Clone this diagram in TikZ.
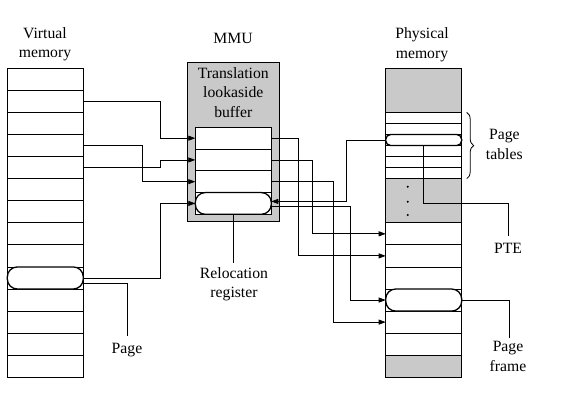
\documentclass[tikz,border=0pt]{standalone}
\usepackage{fontspec}
\setmainfont{Liberation Serif}
\usetikzlibrary{arrows.meta,decorations.pathreplacing,calc}
\begin{document}
\begin{tikzpicture}[x=1pt,y=-1pt,
  line width=0.8pt,
  cell/.style={draw, fill=white, inner sep=0pt, outer sep=0pt, minimum width=76pt},
  greycell/.style={cell, fill=black!21},
  pill/.style={draw, fill=white, line width=1.3pt, inner sep=0pt, outer sep=0pt, minimum width=76pt},
  arr/.style={-{Triangle[length=7pt,width=5pt]}},
  lbl/.style={align=center, font=\fontsize{15.7}{19.6}\selectfont, inner sep=0pt}
]
\useasboundingbox (0,0) rectangle (585,404);

% Virtual memory
\foreach \i in {1,...,14}
  \node[cell, minimum height=22.07pt] (vm\i) at (45.3,{57.265+22.07*\i}) {};
\node[pill, minimum height=22.07pt, rounded corners=10pt] (page) at (vm10) {};

% MMU
\node[draw, fill=black!21, inner sep=0pt, outer sep=0pt, minimum width=92pt, minimum height=159pt] (mmu) at (233.3,142.2) {};
\foreach \i in {1,...,4}
  \node[cell, minimum height=21.75pt] (tlb\i) at (233.3,{116.425+21.75*\i}) {};
\node[pill, minimum height=21.75pt, rounded corners=10pt] (reloc) at (tlb4) {};
\node[lbl] (tlbtxt) at (233.3,92.4) {Translation\\lookaside\\buffer};

% Physical memory
\node[greycell, minimum height=44.14pt] (pmtop) at (423.7,90.37) {};
\foreach \i in {1,...,6}
  \node[cell, minimum height=11.035pt] (pt\i) at (423.7,{106.9225+11.035*\i}) {};
\node[pill, minimum height=11.035pt, rounded corners=5pt] (pte) at (pt3) {};
\node[greycell, minimum height=44.14pt] (pmdots) at (423.7,200.72) {};
\foreach \y in {186.7,201.7,215} \fill (407.7,\y) circle (1.1pt);
\foreach \i in {1,...,6}
  \node[cell, minimum height=22.07pt] (pf\i) at (423.7,{211.755+22.07*\i}) {};
\node[pill, minimum height=22.07pt, rounded corners=10pt] (frame) at (pf4) {};
\node[greycell, minimum height=22.07pt] (pmbot) at (423.7,366.25) {};

% coordinates for label line ends
\coordinate (pageend) at (127,336);
\coordinate (relocend) at (233.3,263);
\coordinate (ptek) at (508,203.3);
\coordinate (pteend) at (508,236);
\coordinate (frameend) at (509,338);

% connectors VM -> TLB
\draw[arr] (vm2.east) -- ++(76.7,0) |- (tlb1.west);
\draw[arr] (vm4.east) -- ++(58.7,0) |- (tlb3.west);
\draw[arr] (vm5.east) -- ++(76.7,0) |- (tlb2.west);
\draw[arr] (page.east) -- ++(76.7,0) |- (reloc.west);

% TLB -> physical
\draw[arr] (tlb1.east) -- ++(27,0) |- (pf2.west);
\draw[arr] (tlb2.east) -- ++(41,0) |- (pf1.west);
\draw[arr] (tlb3.east) -- ++(62,0) |- (pf5.west);
\draw[arr] ([yshift=-3pt]reloc.east) -- ++(79.4,0) |- (frame.west);
\draw[arr] (pte.west) -- ++(-39.7,0) |- ([yshift=2pt]reloc.east);

% label lines
\draw ([yshift=-5pt]page.east) -| (pageend);
\draw (reloc.south) -- (relocend);
\draw (pte.south) |- (ptek) -- (pteend);
\draw (frame.east) -| (frameend);
\draw[decorate, decoration={brace, amplitude=7pt}] ([xshift=5pt]pt1.north east) -- ([xshift=5pt]pt6.south east);

% labels
\node[lbl] (vmlbl) at (45,44.4) {Virtual\\memory};
\node[lbl] (pmlbl) at (422,44.9) {Physical\\memory};
\node[lbl] (mmulbl) at (233,38) {MMU};
\node[lbl] (reloclbl) at (234,284.4) {Relocation\\register};
\node[lbl] (pagelbl) at (127,350.3) {Page};
\node[lbl] (ptelbl) at (508,248.8) {PTE};
\node[lbl] (framelbl) at (508,356.7) {Page\\frame};
\node[lbl] (tableslbl) at (504.3,144.7) {Page\\tables};
\end{tikzpicture}
\end{document}
